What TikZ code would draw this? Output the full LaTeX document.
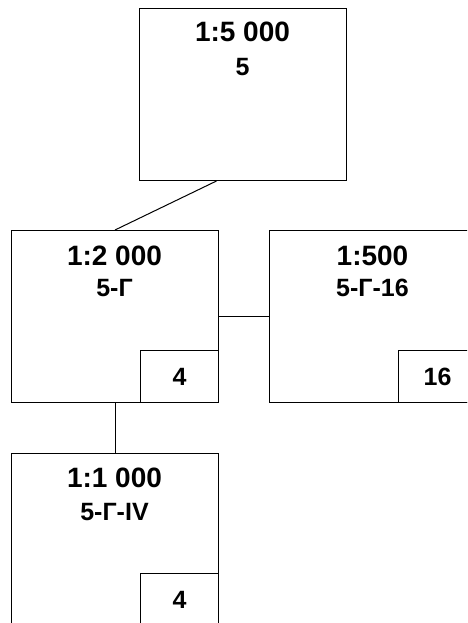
\documentclass[tikz,border=0pt]{standalone}
\usepackage{fontspec}
\setmainfont{Liberation Sans}
\begin{document}
\begin{tikzpicture}[x=1pt,y=-1pt,
  box/.style={draw, line width=1pt, minimum width=207pt, minimum height=172pt, inner sep=0pt, anchor=north west},
  sub/.style={draw, line width=1pt, minimum width=78pt, minimum height=52pt, inner sep=0pt, anchor=south east, font=\fontsize{25}{28}\selectfont\bfseries},
  big/.style={anchor=base, inner sep=0pt, font=\fontsize{28}{32}\selectfont\bfseries},
  mid/.style={anchor=base, inner sep=0pt, font=\fontsize{25}{28}\selectfont\bfseries},
  conn/.style={line width=1pt}]
\useasboundingbox (0,0) rectangle (467,623);
\clip (0,0) rectangle (467,623);
% boxes
\node[box] (t) at (139,8) {};
\node[box] (l) at (11,230) {};
\node[box] (r) at (269,230) {};
\node[box] (b) at (11,453) {};
% sub boxes
\node[sub] (ls) at (l.south east) {4};
\node[sub] (rs) at (r.south east) {16};
\node[sub] (bs) at (b.south east) {4};
% titles
\node[big] (t1) at (242.5,41.7) {1:5 000};
\node[mid] (t2) at (242.5,76) {5};
\node[big] (l1) at (114.5,265) {1:2 000};
\node[mid] (l2) at (114.5,296.7) {5-Г};
\node[big] (r1) at (372.5,265) {1:500};
\node[mid] (r2) at (372.5,296.7) {5-Г-16};
\node[big] (b1) at (114.5,487) {1:1 000};
\node[mid] (b2) at (114.5,520) {5-Г-IV};
% connectors
\coordinate (tc) at ([xshift=-26.5pt]t.south);
\draw[conn] (tc) -- (l.north);
\draw[conn] (l.east) -- (r.west);
\draw[conn] (l.south) -- (b.north);
\end{tikzpicture}
\end{document}
